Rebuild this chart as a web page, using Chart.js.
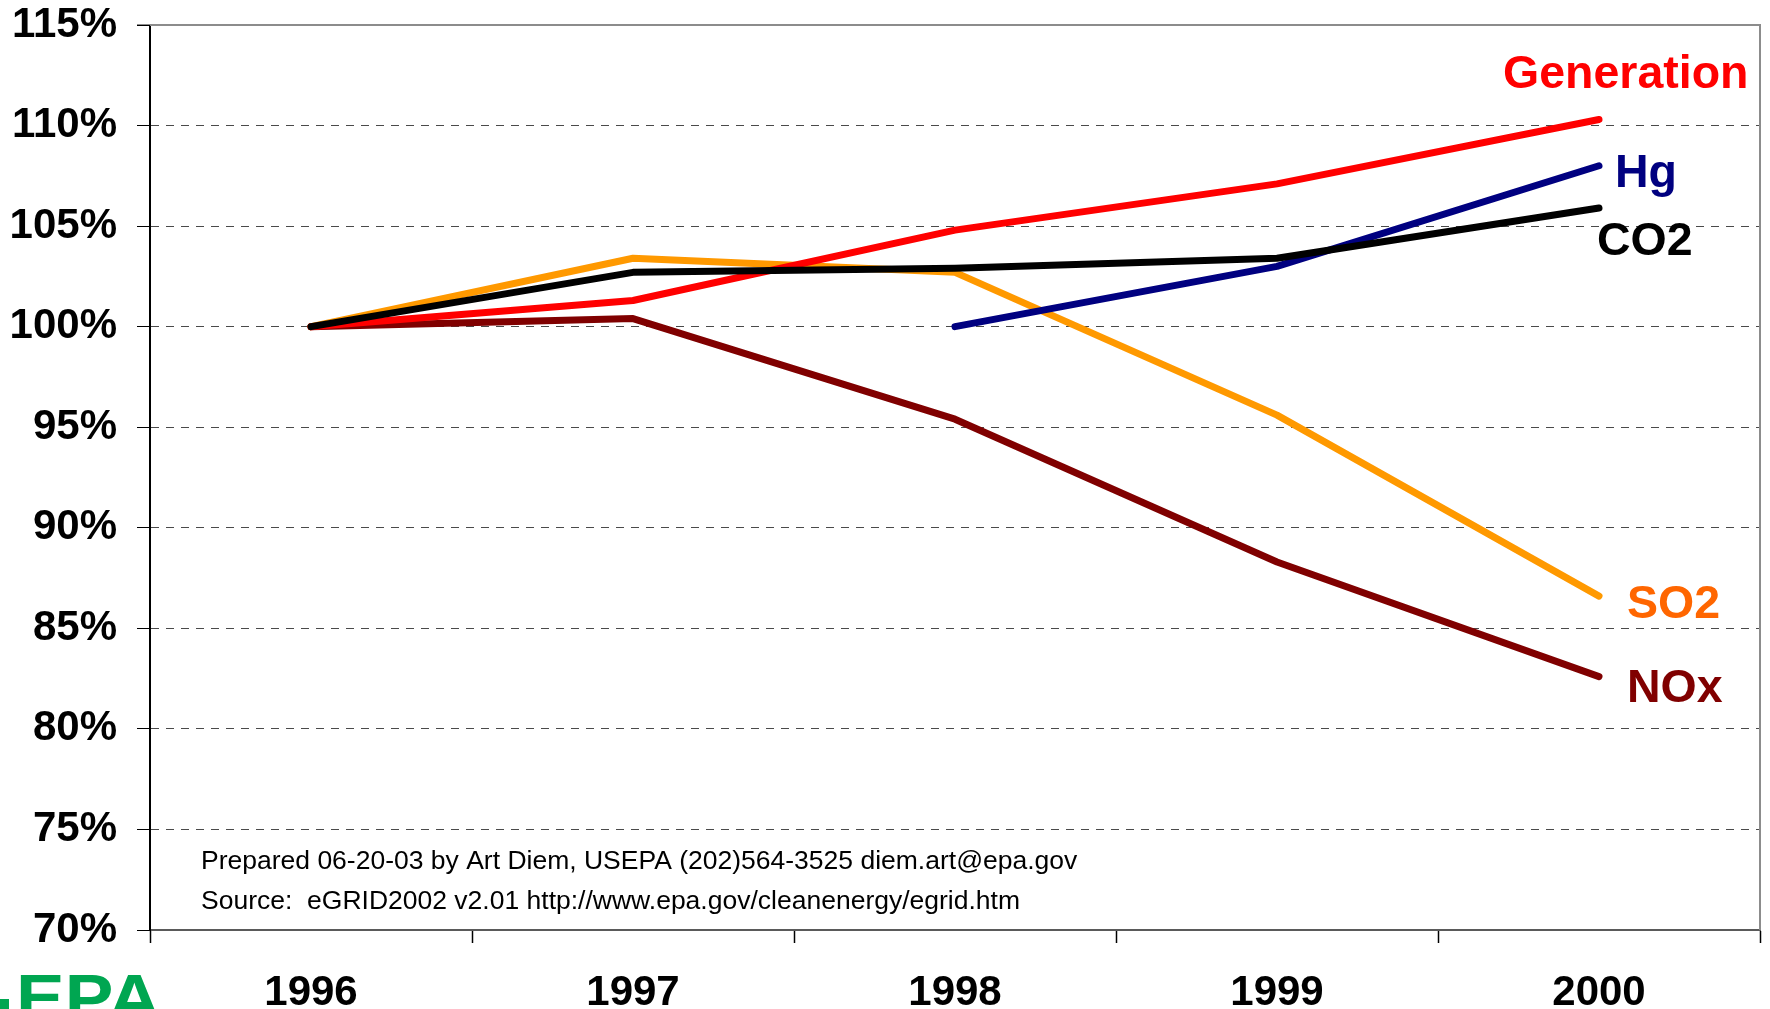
<!DOCTYPE html>
<html>
<head>
<meta charset="utf-8">
<title>Electric power generation and emissions, 1996–2000</title>
<script src="https://cdn.jsdelivr.net/npm/chart.js@4/dist/chart.umd.min.js"></script>
<style>
  html, body { margin: 0; padding: 0; background: #ffffff; }
  #wrap { width: 1770px; height: 1009px; position: relative; }
  canvas { display: block; }
</style>
</head>
<body>
<div id="wrap"><canvas id="chart" width="1770" height="1009"></canvas></div>
<script>
// Index values, 1996 = 100% (Hg indexed to 1998)
const years = ['1996', '1997', '1998', '1999', '2000'];
const generation = [100, 101.3, 104.8, 107.1, 110.3];
const hg = [null, null, 100, 103.0, 108.0];
const co2 = [100, 102.7, 102.9, 103.4, 105.9];
const so2 = [100, 103.4, 102.7, 95.6, 86.6];
const nox = [100, 100.4, 95.4, 88.3, 82.6];

const seriesNames = ['Generation', 'Hg', 'CO2', 'SO2', 'NOx'];
const yTicks = [70, 75, 80, 85, 90, 95, 100, 105, 110, 115];

const notes = [
  'Prepared 06-20-03 by Art Diem, USEPA (202)564-3525 diem.art@epa.gov',
  'Source:  eGRID2002 v2.01 http://www.epa.gov/cleanenergy/egrid.htm'
];

const FONT = '"Liberation Sans", Arial, Helvetica, sans-serif';
Chart.defaults.font.family = FONT;

// End-of-line series labels, placed relative to each line's last point
const labelStyle = {
  'Generation': { color: '#ff0000', dx: -96, dy: -32 },
  'Hg':         { color: '#000080', dx: 16,  dy: 21 },
  'CO2':        { color: '#000000', dx: -2,  dy: 47 },
  'SO2':        { color: '#ff6600', dx: 28,  dy: 22 },
  'NOx':        { color: '#800000', dx: 28,  dy: 25 }
};

const endLabels = {
  id: 'endLabels',
  afterDatasetsDraw(chart) {
    const ctx = chart.ctx;
    ctx.save();
    ctx.font = 'bold 46.5px ' + FONT;
    ctx.textAlign = 'left';
    ctx.textBaseline = 'alphabetic';
    chart.data.datasets.forEach((ds, i) => {
      const meta = chart.getDatasetMeta(i);
      const pt = meta.data[meta.data.length - 1];
      const st = labelStyle[ds.label];
      ctx.fillStyle = st.color;
      ctx.fillText(ds.label, pt.x + st.dx, pt.y + st.dy);
    });
    ctx.restore();
  }
};

// Plot frame (top and right edges) plus footnote text and logo
const frameAndNotes = {
  id: 'frameAndNotes',
  afterDraw(chart) {
    const ctx = chart.ctx;
    const a = chart.chartArea;
    ctx.save();
    ctx.strokeStyle = '#8c8c8c';
    ctx.lineWidth = 2;
    ctx.beginPath();
    ctx.moveTo(a.left - 13, a.top);
    ctx.lineTo(a.right, a.top);
    ctx.lineTo(a.right, a.bottom);
    ctx.stroke();
    ctx.strokeStyle = '#000000';
    ctx.lineWidth = 1;
    ctx.beginPath();
    ctx.moveTo(a.left - 13, a.top + 0.5);
    ctx.lineTo(a.left, a.top + 0.5);
    ctx.stroke();

    ctx.fillStyle = '#000000';
    ctx.font = '26.5px ' + FONT;
    ctx.textAlign = 'left';
    ctx.textBaseline = 'alphabetic';
    ctx.fillText(notes[0], 201, 869);
    ctx.fillText(notes[1], 201, 909);

    // logo wordmark, cut off by the bottom edge
    ctx.fillStyle = '#00a651';
    ctx.save();
    ctx.translate(16, 1020);
    ctx.scale(1.14, 1);
    ctx.font = 'bold 64px ' + FONT;
    ctx.fillText('EPA', 0, 0);
    ctx.restore();
    ctx.fillRect(0, 999, 9, 10);
    ctx.restore();
  }
};

const lineDataset = (label, data, color, order) => ({
  label, data,
  borderColor: color,
  backgroundColor: color,
  borderWidth: 7,
  pointRadius: 0,
  pointHoverRadius: 0,
  tension: 0,
  borderCapStyle: 'round',
  borderJoinStyle: 'round',
  fill: false,
  order
});

new Chart(document.getElementById('chart'), {
  type: 'line',
  data: {
    labels: years,
    datasets: [
      lineDataset(seriesNames[0], generation, '#ff0000', 1),
      lineDataset(seriesNames[1], hg, '#000080', 2),
      lineDataset(seriesNames[2], co2, '#000000', 0),
      lineDataset(seriesNames[3], so2, '#ff9900', 3),
      lineDataset(seriesNames[4], nox, '#800000', 4)
    ]
  },
  options: {
    responsive: false,
    animation: false,
    devicePixelRatio: 1,
    layout: { padding: { left: 0, right: 10, top: 25, bottom: 0 } },
    plugins: {
      legend: { display: false },
      tooltip: { enabled: false },
      title: { display: false }
    },
    scales: {
      x: {
        type: 'category',
        offset: true,
        grid: {
          offset: true,
          drawOnChartArea: false,
          drawTicks: true,
          tickLength: 13,
          tickColor: '#000000',
          tickWidth: 1.5
        },
        border: { display: true, color: '#5a5a5a', width: 2 },
        ticks: {
          color: '#000000',
          font: { size: 42, weight: 'bold', family: FONT },
          padding: 25,
          maxRotation: 0,
          autoSkip: false
        },
        afterFit(scale) {
          scale.height = 79;
          scale.paddingLeft = 0;
          scale.paddingRight = 0;
        }
      },
      y: {
        type: 'linear',
        min: 70,
        max: 115,
        afterBuildTicks(scale) { scale.ticks = yTicks.map(v => ({ value: v })); },
        grid: {
          color: ctx => (ctx.tick && (ctx.tick.value === 70 || ctx.tick.value === 115)) ? 'rgba(0,0,0,0)' : '#4a4a4a',
          lineWidth: 1,
          drawTicks: true,
          tickLength: 13,
          tickColor: '#000000',
          tickWidth: 1,
          tickBorderDash: [1, 0]
        },
        border: { display: true, color: '#000000', width: 2, dash: [8, 7] },
        ticks: {
          color: '#000000',
          font: { size: 42, weight: 'bold', family: FONT },
          padding: 20,
          callback: v => v + '%'
        },
        afterFit(scale) {
          scale.width = 150;
          scale.paddingTop = 0;
          scale.paddingBottom = 0;
        }
      }
    }
  },
  plugins: [endLabels, frameAndNotes]
});
</script>
</body>
</html>
